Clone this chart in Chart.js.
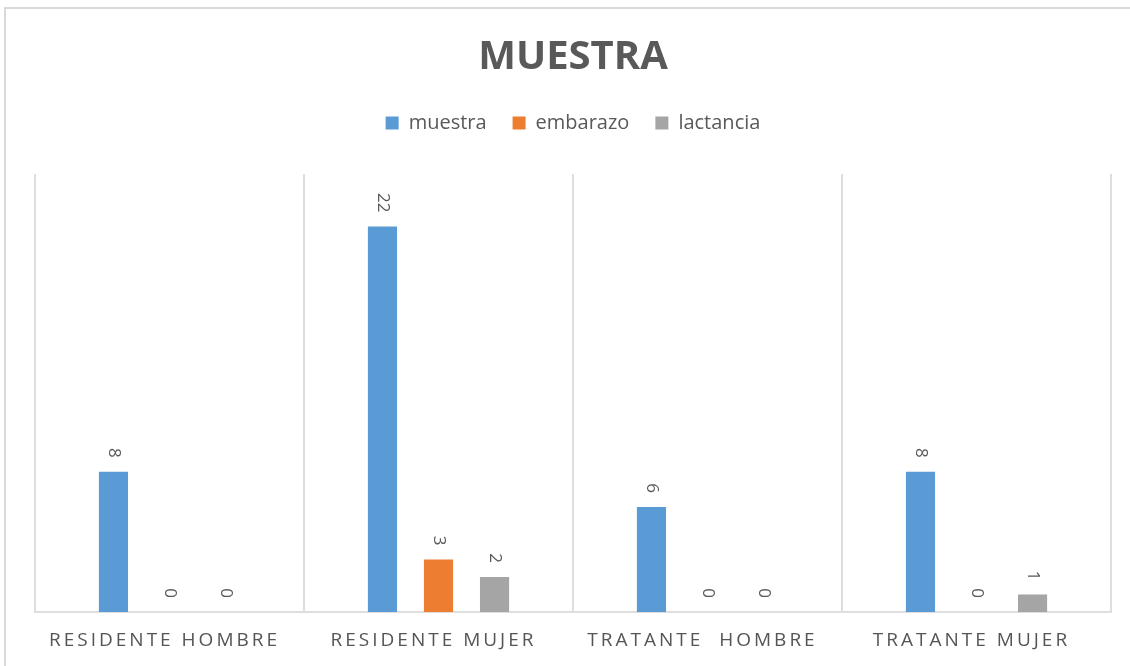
<!DOCTYPE html>
<html lang="es">
<head>
    <meta charset="UTF-8">
    <title>Muestra</title>
    <script src="https://cdn.jsdelivr.net/npm/chart.js"></script>
    <style>
        html, body { margin: 0; padding: 0; background: #fff; overflow: hidden; }
        #wrap { position: relative; width: 1130px; height: 666px; }
        #frame { position: absolute; left: 4px; top: 7px; width: 1200px; height: 700px; border: 2px solid #d9d9d9; }
        #muestraChart { position: absolute; left: 0; top: 0; }
    </style>
</head>
<body>
<div id="wrap">
    <div id="frame"></div>
    <canvas id="muestraChart" width="1130" height="666"></canvas>
</div>
<script>
    // datos
    const categorias = ["RESIDENTE HOMBRE", "RESIDENTE MUJER", "TRATANTE  HOMBRE", "TRATANTE MUJER"];
    const muestra = [8, 22, 6, 8];
    const embarazo = [0, 3, 0, 0];
    const lactancia = [0, 2, 0, 1];

    const gris = "#595959";
    const fuente = "'Open Sans', sans-serif";

    // etiquetas de valor giradas 90 grados sobre cada barra
    const valueLabels = {
        id: "valueLabels",
        afterDatasetsDraw(chart) {
            const ctx = chart.ctx;
            ctx.save();
            ctx.fillStyle = gris;
            ctx.font = "17px " + fuente;
            ctx.textAlign = "right";
            ctx.textBaseline = "middle";
            chart.data.datasets.forEach((ds, i) => {
                chart.getDatasetMeta(i).data.forEach((bar, j) => {
                    ctx.save();
                    ctx.translate(bar.x, bar.y - 14);
                    ctx.rotate(Math.PI / 2);
                    ctx.fillText(String(ds.data[j]), 0, 0);
                    ctx.restore();
                });
            });
            ctx.restore();
        }
    };

    // etiquetas de categoría con espaciado entre letras
    const categoryLabels = {
        id: "categoryLabels",
        afterDraw(chart) {
            const ctx = chart.ctx;
            const x = chart.scales.x;
            ctx.save();
            ctx.fillStyle = "#555";
            ctx.font = "19px " + fuente;
            ctx.letterSpacing = "3px";
            ctx.textAlign = "center";
            ctx.textBaseline = "middle";
            chart.data.labels.forEach((lbl, i) => {
                ctx.fillText(lbl, x.getPixelForValue(i) - 5, chart.chartArea.bottom + 29);
            });
            ctx.restore();
        }
    };

    new Chart(document.getElementById("muestraChart"), {
        type: "bar",
        data: {
            labels: categorias,
            datasets: [
                { label: "muestra", data: muestra, backgroundColor: "#5b9bd5" },
                { label: "embarazo", data: embarazo, backgroundColor: "#ed7d31" },
                { label: "lactancia", data: lactancia, backgroundColor: "#a5a5a5" }
            ]
        },
        options: {
            responsive: false,
            animation: false,
            categoryPercentage: 0.625,
            barPercentage: 0.52,
            layout: { padding: { top: 8, left: 35, right: 19, bottom: 54 } },
            scales: {
                x: {
                    grid: { offset: true, color: "#dedede", lineWidth: 2, drawTicks: false },
                    border: { color: "#dedede", width: 2 },
                    ticks: { display: false }
                },
                y: { display: false, min: 0, max: 25 }
            },
            plugins: {
                title: {
                    display: true,
                    text: "MUESTRA",
                    color: gris,
                    font: { family: fuente, size: 40, weight: "bold", lineHeight: 1.2 },
                    padding: { top: 26, bottom: 5 }
                },
                subtitle: {
                    display: true,
                    text: "",
                    weight: 500,
                    font: { size: 10, lineHeight: 1 },
                    padding: { top: 21, bottom: 0 }
                },
                legend: {
                    labels: {
                        color: gris,
                        font: { family: fuente, size: 20 },
                        boxWidth: 13,
                        boxHeight: 13,
                        padding: 26
                    }
                },
                tooltip: { enabled: false }
            }
        },
        plugins: [valueLabels, categoryLabels]
    });
</script>
</body>
</html>
